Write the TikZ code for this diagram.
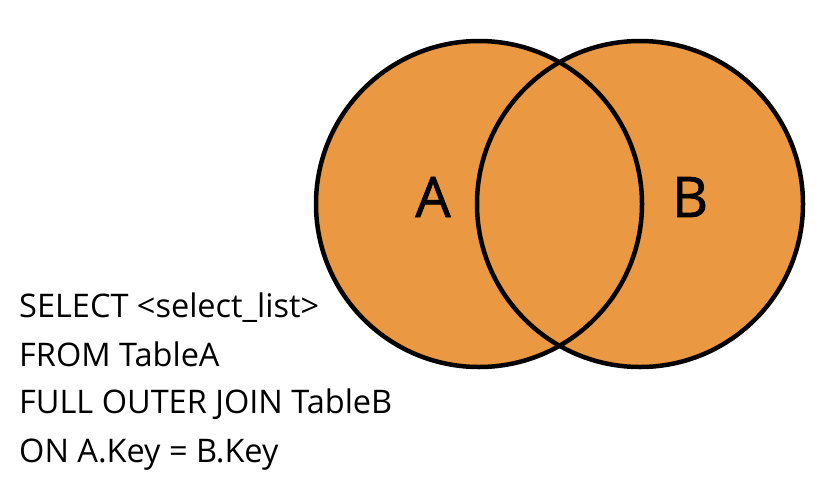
\documentclass[tikz,border=0pt]{standalone}
\usepackage{fontspec}
\setmainfont{Open Sans}
\newfontfamily\setfont[FakeBold=1.2]{Open Sans}
\definecolor{joinfill}{RGB}{234,152,66}
\tikzset{
  setline/.style={line width=4.5pt},
  setlabel/.style={font=\setfont\fontsize{56}{60}\selectfont},
  sqlline/.style={anchor=base west, inner sep=0pt, font=\fontsize{32.5}{40}\selectfont}
}
\begin{document}
\begin{tikzpicture}[x=1pt,y=-1pt]
\useasboundingbox (0,0) rectangle (818,482);

\coordinate (cA) at (479,204);
\coordinate (cB) at (640,204);
\fill[joinfill] (cA) circle (163pt);
\fill[joinfill] (cB) circle (163pt);
\draw[setline] (cA) circle (163pt);
\draw[setline] (cB) circle (163pt);

\node[setlabel] (labA) at (433,197) {A};
\node[setlabel] (labB) at (690,197) {B};

\node[sqlline] (sel) at (19,317) {SELECT <select\_list>};
\node[sqlline] (from) at (19,366) {FROM TableA};
\node[sqlline] (join) at (19,413) {FULL OUTER JOIN TableB};
\node[sqlline] (on) at (19,462) {ON A.Key = B.Key};
\end{tikzpicture}
\end{document}
